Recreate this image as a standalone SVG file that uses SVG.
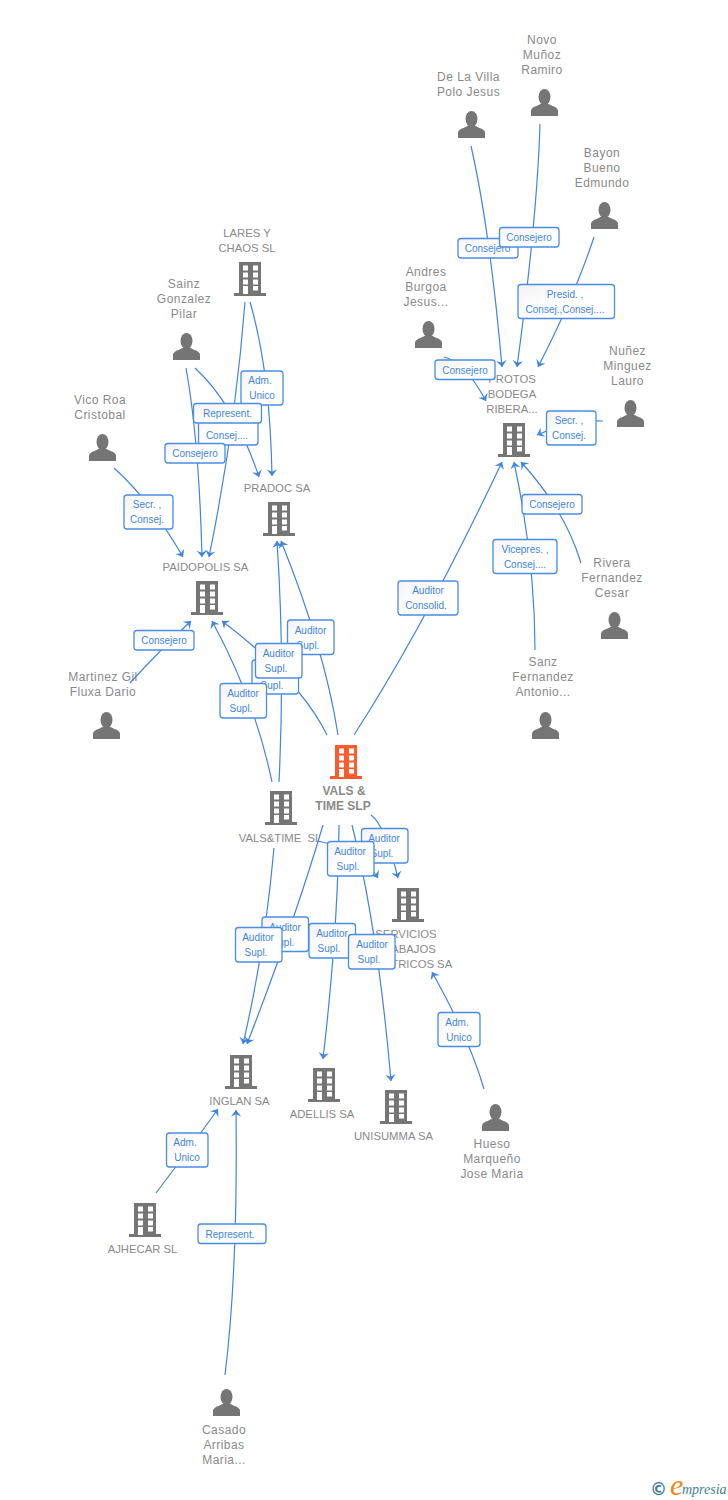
<svg xmlns="http://www.w3.org/2000/svg" width="728" height="1500" viewBox="0 0 728 1500">
<style>
text{font-family:"Liberation Sans",Arial,sans-serif}
.n{font-size:12px;fill:#8a8a8a;text-anchor:middle;letter-spacing:.45px}
.u{font-size:11.300px;letter-spacing:0}
.b{font-weight:bold;font-size:12px;letter-spacing:0}
.c{fill:none;stroke:#4285dc;stroke-width:1.2;marker-end:url(#a)}
.l rect{fill:url(#g);stroke:#4a8de4;stroke-width:1.3}
.l text{font-size:10px;fill:#3f85e0;text-anchor:middle}
</style>
<defs>
<linearGradient id="g" x1="0" y1="0" x2="1" y2="1"><stop offset="0" stop-color="#f3f3f3"/><stop offset="0.5" stop-color="#fff"/></linearGradient>
<marker id="a" markerUnits="userSpaceOnUse" markerWidth="12" markerHeight="12" refX="10" refY="6" orient="auto"><path d="M10 6L3.500 .8L5.800 6L3.500 11.200Z" fill="#3f84e0"/></marker>
<g id="bw"><path fill="#fff" d="M-7-13.500h5v5h-5zM3-13.500h5v5h-5zM-7-6.500h5v5h-5zM3-6.500h5v5h-5zM-7 .5h5v5h-5zM3 .5h5v5h-5zM-7 7h5v8h-5zM3 7h5v4.500h-5z"/></g>
<g id="bld"><path fill="#757575" d="M-11-17H11V14H16V17H-16V14H-11Z"/><use href="#bw"/></g>
<g id="bldo"><path fill="#ff5a2b" d="M-11-17H11V14H16V17H-16V14H-11Z"/><use href="#bw"/></g>
<g id="per"><ellipse cx="0" cy="-5.500" rx="6" ry="8" fill="#757575"/><path fill="#757575" d="M-13.500 13.500V8Q-13 5-8 3.500L-3 1H3L8 3.500Q13 5 13.500 8V13.500Z"/></g>
</defs>
<rect width="728" height="1500" fill="#fff"/>
<g id="node-novo"><text class="n" x="542" y="44">Novo</text><text class="n" x="542" y="59">Muñoz</text><text class="n" x="542" y="74">Ramiro</text><use href="#per" x="544.500" y="102.500"/></g>
<g id="node-delavilla"><text class="n" x="468.500" y="81">De La Villa</text><text class="n" x="468.500" y="96">Polo Jesus</text><use href="#per" x="471.500" y="124.500"/></g>
<g id="node-bayon"><text class="n" x="602" y="157">Bayon</text><text class="n" x="602" y="172">Bueno</text><text class="n" x="602" y="187">Edmundo</text><use href="#per" x="604.500" y="215.500"/></g>
<g id="node-andres"><text class="n" x="426" y="276">Andres</text><text class="n" x="426" y="291">Burgoa</text><text class="n" x="426" y="306">Jesus...</text><use href="#per" x="428.500" y="334.500"/></g>
<g id="node-nunez"><text class="n" x="627.500" y="355">Nuñez</text><text class="n" x="627.500" y="370">Minguez</text><text class="n" x="627.500" y="385">Lauro</text><use href="#per" x="630.500" y="413.500"/></g>
<g id="node-protos"><text class="n u" x="512" y="383">PROTOS</text><text class="n u" x="512" y="398">BODEGA</text><text class="n u" x="512" y="413">RIBERA...</text><use href="#bld" x="514" y="440"/></g>
<g id="node-rivera"><text class="n" x="612" y="567">Rivera</text><text class="n" x="612" y="582">Fernandez</text><text class="n" x="612" y="597">Cesar</text><use href="#per" x="614.500" y="625.500"/></g>
<g id="node-sanz"><text class="n" x="543" y="666">Sanz</text><text class="n" x="543" y="681">Fernandez</text><text class="n" x="543" y="696">Antonio...</text><use href="#per" x="545.500" y="725.500"/></g>
<g id="node-vals"><use href="#bldo" x="346" y="762"/><text class="n b" x="344" y="795">VALS &amp;</text><text class="n b" x="343" y="810">TIME SLP</text></g>
<g id="node-paidopolis"><text class="n u" x="205.500" y="571">PAIDOPOLIS SA</text><use href="#bld" x="207" y="598"/></g>
<g id="node-pradoc"><text class="n u" x="277" y="492">PRADOC SA</text><use href="#bld" x="279" y="519"/></g>
<g id="node-lares"><text class="n u" x="247" y="237">LARES Y</text><text class="n u" x="247" y="252">CHAOS SL</text><use href="#bld" x="250" y="279"/></g>
<g id="node-sainz"><text class="n" x="184" y="288">Sainz</text><text class="n" x="184" y="303">Gonzalez</text><text class="n" x="184" y="318">Pilar</text><use href="#per" x="186.500" y="346.500"/></g>
<g id="node-vico"><text class="n" x="100" y="404">Vico Roa</text><text class="n" x="100" y="419">Cristobal</text><use href="#per" x="102.500" y="447.500"/></g>
<g id="node-martinez"><text class="n" x="103" y="681">Martinez Gil</text><text class="n" x="103" y="696">Fluxa Dario</text><use href="#per" x="106.500" y="725.500"/></g>
<g id="node-valstime"><use href="#bld" x="281" y="808"/><text class="n u" x="280" y="842" word-spacing="3">VALS&amp;TIME SL</text></g>
<g id="node-servicios"><use href="#bld" x="408" y="905"/><text class="n u" x="406" y="938">SERVICIOS</text><text class="n u" x="406" y="953">TRABAJOS</text><text class="n u" x="407" y="968">ELECTRICOS SA</text></g>
<g id="node-inglan"><use href="#bld" x="241" y="1072"/><text class="n u" x="239.500" y="1105">INGLAN SA</text></g>
<g id="node-adellis"><use href="#bld" x="324" y="1085"/><text class="n u" x="322" y="1118">ADELLIS SA</text></g>
<g id="node-unisumma"><use href="#bld" x="396" y="1107"/><text class="n u" x="393.500" y="1140">UNISUMMA SA</text></g>
<g id="node-hueso"><use href="#per" x="495.500" y="1117.500"/><text class="n" x="492" y="1148">Hueso</text><text class="n" x="492" y="1163">Marqueño</text><text class="n" x="492" y="1178">Jose Maria</text></g>
<g id="node-ajhecar"><use href="#bld" x="145" y="1220"/><text class="n u" x="142.500" y="1253">AJHECAR SL</text></g>
<g id="node-casado"><use href="#per" x="226.500" y="1402.500"/><text class="n" x="224" y="1434">Casado</text><text class="n" x="224" y="1449">Arribas</text><text class="n" x="224" y="1464">Maria...</text></g>
<g id="connectors">
<path class="c" d="M471 146Q490 230 502 367"/>
<path class="c" d="M540 124Q537 220 517 367"/>
<path class="c" d="M594 237Q575 295 538 367"/>
<path class="c" d="M444 357Q465 362 486 401"/>
<path class="c" d="M603 421Q570 419 537 435"/>
<path class="c" d="M581 563Q565 510 521 462"/>
<path class="c" d="M535 650Q535 560 514 462"/>
<path class="c" d="M354 735Q425 625 502 462"/>
<path class="c" d="M245 302Q235 430 209 557"/>
<path class="c" d="M250 302Q270 370 272 476"/>
<path class="c" d="M186 368Q199 440 202 557"/>
<path class="c" d="M195 368Q235 405 259 477"/>
<path class="c" d="M114 468Q150 500 183 557"/>
<path class="c" d="M130 683Q160 650 191 621"/>
<path class="c" d="M338 735Q325 650 281 541"/>
<path class="c" d="M279 782Q285 660 277 541"/>
<path class="c" d="M327 735Q300 680 222 621"/>
<path class="c" d="M272 782Q255 700 212 621"/>
<path class="c" d="M371 815Q385 825 398 878"/>
<path class="c" d="M318 841Q360 850 378 878"/>
<path class="c" d="M323 825Q295 920 247 1044"/>
<path class="c" d="M274 848Q265 950 243 1044"/>
<path class="c" d="M339 825Q338 930 323 1059"/>
<path class="c" d="M352 825Q378 930 391 1081"/>
<path class="c" d="M484 1089Q470 1040 432 972"/>
<path class="c" d="M156 1193Q185 1155 218 1109"/>
<path class="c" d="M225 1375Q238 1270 236 1110"/>
</g>
<g id="labels" class="l">
<g><rect x="458" y="238.500" width="60" height="19.500" rx="3"/><text x="487.500" y="252">Consejero</text></g>
<g><rect x="499.500" y="227.500" width="59.500" height="19.500" rx="3"/><text x="529" y="241">Consejero</text></g>
<g><rect x="518" y="284.500" width="96.500" height="34" rx="3"/><text x="565" y="297.500">Presid. ,</text><text x="565" y="312.500">Consej.,Consej....</text></g>
<g><rect x="435" y="360" width="60" height="19.500" rx="3"/><text x="465" y="373.500">Consejero</text></g>
<g><rect x="546.500" y="411" width="49.500" height="34" rx="3"/><text x="569" y="424">Secr. ,</text><text x="569" y="439">Consej.</text></g>
<g><rect x="522" y="494.500" width="60" height="19.500" rx="3"/><text x="552" y="508">Consejero</text></g>
<g><rect x="493" y="539.500" width="64" height="34" rx="3"/><text x="525" y="552.500">Vicepres. ,</text><text x="525" y="567.500">Consej....</text></g>
<g><rect x="398" y="581" width="60" height="34" rx="3"/><text x="428" y="594">Auditor</text><text x="426" y="609">Consolid.</text></g>
<g><rect x="241" y="371" width="42" height="34" rx="3"/><text x="260" y="384">Adm.</text><text x="262" y="399">Unico</text></g>
<g><rect x="198.500" y="411" width="59.500" height="34" rx="3"/><text x="227" y="439">Consej....</text></g>
<g><rect x="193.500" y="403.500" width="68" height="19.500" rx="3"/><text x="227.500" y="417">Represent.</text></g>
<g><rect x="165" y="443.500" width="60" height="19.500" rx="3"/><text x="195" y="457">Consejero</text></g>
<g><rect x="124" y="495" width="49" height="34" rx="3"/><text x="147" y="508">Secr. ,</text><text x="147" y="523">Consej.</text></g>
<g><rect x="134" y="630.500" width="60" height="19.500" rx="3"/><text x="164" y="644">Consejero</text></g>
<g><rect x="287.500" y="620" width="46.500" height="34.500" rx="3"/><text x="310.500" y="633.500">Auditor</text><text x="308" y="648.500">Supl.</text></g>
<g><rect x="252" y="660" width="46.500" height="34" rx="3"/><text x="275" y="673.500">Auditor</text><text x="272" y="688.500">Supl.</text></g>
<g><rect x="255.500" y="643.500" width="46.500" height="34.500" rx="3"/><text x="278.500" y="657">Auditor</text><text x="276" y="672">Supl.</text></g>
<g><rect x="220" y="683.500" width="46.500" height="34.500" rx="3"/><text x="243" y="697">Auditor</text><text x="241" y="712">Supl.</text></g>
<g><rect x="361.500" y="828.500" width="46.500" height="34.500" rx="3"/><text x="384" y="842">Auditor</text><text x="382" y="857">Supl.</text></g>
<g><rect x="327.500" y="841.500" width="46.500" height="34.500" rx="3"/><text x="350" y="855">Auditor</text><text x="348" y="870">Supl.</text></g>
<g><rect x="262" y="917" width="46.500" height="34.500" rx="3"/><text x="285" y="930.500">Auditor</text><text x="283" y="945.500">Supl.</text></g>
<g><rect x="235.500" y="927.500" width="46.500" height="34.500" rx="3"/><text x="258" y="941">Auditor</text><text x="256" y="956">Supl.</text></g>
<g><rect x="309" y="923.500" width="46.500" height="34.500" rx="3"/><text x="332" y="937">Auditor</text><text x="329" y="952">Supl.</text></g>
<g><rect x="348.500" y="934.500" width="46.500" height="34.500" rx="3"/><text x="372" y="948">Auditor</text><text x="369" y="963">Supl.</text></g>
<g><rect x="438" y="1012.500" width="42" height="34" rx="3"/><text x="457" y="1026">Adm.</text><text x="459" y="1041">Unico</text></g>
<g><rect x="166.500" y="1133" width="41.500" height="34" rx="3"/><text x="185" y="1146">Adm.</text><text x="187" y="1161">Unico</text></g>
<g><rect x="198" y="1224" width="68" height="19.500" rx="3"/><text x="230" y="1237.500">Represent.</text></g>
</g>
<g id="logo"><text x="650" y="1495" font-size="17" font-weight="bold" fill="#3f7f96" style="font-family:'DejaVu Sans',sans-serif">©</text><text x="670" y="1495" font-size="30" fill="#f08a1d" font-style="italic" style="font-family:'Liberation Serif',serif">e</text><text x="682" y="1494" font-size="14" fill="#3f7f96" font-style="italic" style="font-family:'Liberation Serif',serif">mpresia</text></g>
</svg>
